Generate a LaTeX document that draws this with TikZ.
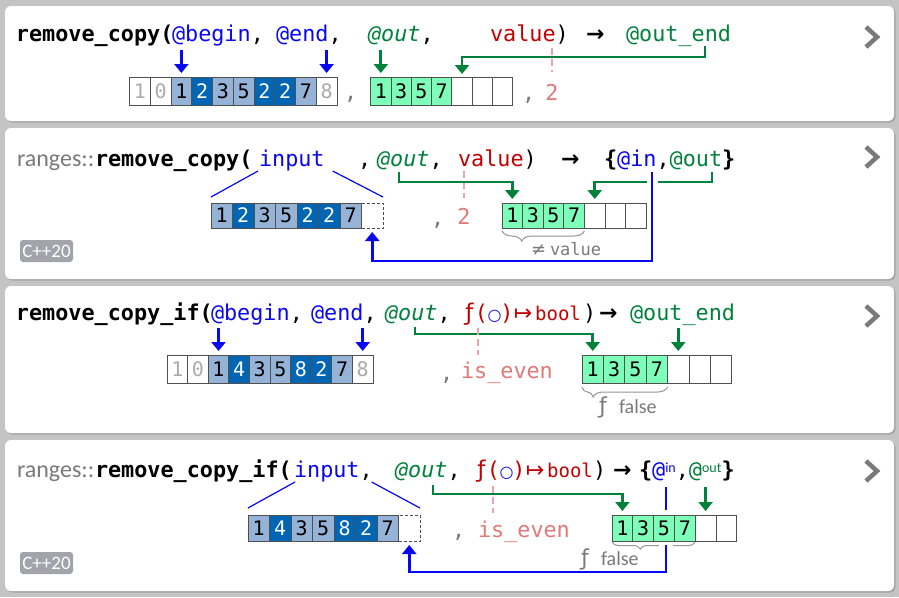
\documentclass[tikz,border=0pt]{standalone}
\usepackage{fontspec}
\setmonofont{DejaVu Sans Mono}
\setsansfont{Carlito}
\newfontfamily\symf{DejaVu Sans}
\usetikzlibrary{arrows.meta,decorations.pathreplacing,calc}

\definecolor{bgc}{HTML}{C4C4C4}
\definecolor{shadowc}{HTML}{A4A4A4}
\definecolor{blueA}{HTML}{0808F0}
\definecolor{greenA}{HTML}{00823D}
\definecolor{redA}{HTML}{C40000}
\definecolor{lred}{HTML}{E07A7A}
\definecolor{ldash}{HTML}{EBA5A5}
\definecolor{lblue}{HTML}{95B3D7}
\definecolor{dblue}{HTML}{0066B3}
\definecolor{gcell}{HTML}{7DFFB9}
\definecolor{grayt}{HTML}{7A7A7A}
\definecolor{lgrayt}{HTML}{ABABAB}
\definecolor{badgec}{HTML}{A3A3AB}
\definecolor{cellb}{HTML}{505050}

\newcommand\cdmono{\fontsize{21.8pt}{24pt}\selectfont\ttfamily}
\newcommand\cdcell{\fontsize{20pt}{22pt}\selectfont\ttfamily}
\newcommand\cdsmall{\fontsize{17pt}{19pt}\selectfont\ttfamily}
\newcommand\cdsans{\fontsize{24pt}{26pt}\selectfont\sffamily}
\newcommand\cdlabel{\fontsize{20pt}{22pt}\selectfont\sffamily}
\newcommand\cdbadge{\fontsize{19pt}{21pt}\selectfont\sffamily}
\newcommand\cdsup{\fontsize{14pt}{14pt}\selectfont\sffamily}
\newcommand\cdarrow{\fontsize{22pt}{24pt}\selectfont\symf\bfseries}
\newcommand\cdsymsm{\fontsize{18pt}{20pt}\selectfont\symf}
\newcommand\cdfn{\fontsize{23pt}{23pt}\selectfont\symf ƒ}

% predicate signature f(o) -> bool, each piece in a fixed-width slot
\newcommand\predsig{%
  \textcolor{redA}{\makebox[15pt][c]{\cdfn}\makebox[9pt][c]{(}}%
  \textcolor{blueA}{\makebox[17pt][c]{\symf\fontsize{16pt}{16pt}\selectfont ○}}%
  \textcolor{redA}{\makebox[8pt][c]{)}\makebox[24pt][c]{\symf\fontsize{22pt}{22pt}\selectfont ↦}%
  \makebox[46pt][c]{\fontsize{19pt}{20pt}\selectfont bool}}}

% a row of array cells: prefix, x0, ytop, cell width, cell height, kind/value list
\newcommand\cellrow[6]{%
  \foreach \s/\v [count=\i] in {#6} {
    \node[cellbox,\s,minimum width=#4pt,minimum height=#5pt,anchor=north west]
      (#1\i) at ({#2+(\i-1)*#4},#3) {\v};
  }}

\tikzset{
  tx/.style={inner sep=0pt, outer sep=0pt, anchor=base west, font=\cdmono},
  cellbox/.style={draw=cellb, line width=0.9pt, inner sep=0pt, outer sep=0pt, font=\cdcell},
  cgray/.style={fill=white, text=lgrayt},
  clight/.style={fill=lblue, text=black},
  cdark/.style={fill=dblue, text=white},
  cgreen/.style={fill=gcell, text=black},
  cempty/.style={fill=white},
  cdash/.style={fill=white, dash pattern=on 3pt off 2pt},
  barrow/.style={draw=blueA, line width=3pt, -{Triangle[width=14pt,length=9pt]}},
  garrow/.style={draw=greenA, line width=3pt, -{Triangle[width=14pt,length=9pt]}},
  bthin/.style={line width=2.5pt},
  gthin/.style={line width=2.5pt},
  bline/.style={draw=blueA, line width=2.5pt},
  thinb/.style={draw=blueA, line width=1.2pt},
  rdash/.style={draw=ldash, line width=1.3pt, dash pattern=on 7pt off 4pt},
  brc/.style={draw=grayt!80, line width=1pt, decorate,
    decoration={brace, mirror, amplitude=#1}},
  chev/.style={draw=grayt, line width=4.5pt, line cap=butt, line join=miter},
  badge/.style={fill=badgec, rounded corners=3pt, minimum width=53pt,
    minimum height=22pt, inner sep=0pt, text=white, font=\cdbadge},
}

\begin{document}
\begin{tikzpicture}[x=1pt,y=-1pt]
\useasboundingbox (0,0) rectangle (899,597);
\fill[bgc] (0,0) rectangle (899,597);

% cards
\foreach \ya/\yb in {6/121,128/279,286/433,440/591} {
  \fill[shadowc, rounded corners=6pt] (6.5,\ya+1.5) rectangle (895.5,\yb+1.5);
  \fill[white, rounded corners=6pt] (5,\ya) rectangle (894,\yb);
}
\foreach \yc in {37,157,316,471}
  \draw[chev] (866,\yc-10) -- (877,\yc) -- (866,\yc+10);

% ---------------- remove_copy ----------------
\node[tx] (p1fn) at (16,41) {\bfseries remove\_copy(};
\node[tx,text=blueA] (p1begin) at (172,41) {@begin};
\node[tx] (p1c1) at (p1begin.base east) {,};
\node[tx,text=blueA] (p1end) at (276,41) {@end};
\node[tx] (p1c2) at (p1end.base east) {,};
\node[tx,text=greenA] (p1out) at (368,41) {\itshape @out};
\node[tx] (p1c3) at (p1out.base east) {,};
\node[tx,text=redA] (p1val) at (490,41) {value};
\node[tx] (p1rp) at (p1val.base east) {)};
\node[tx,font=\cdarrow] (p1to) at (586,41) {→};
\node[tx,text=greenA] (p1ret) at (626,41) {@out\_end};

\cellrow{p1a}{129.5}{77}{20.75}{28}{cgray/1,cgray/0,clight/1,cdark/2,clight/3,clight/5,cdark/2,cdark/2,clight/7,cgray/8}
\cellrow{p1b}{370.7}{77}{20.3}{28}{cgreen/1,cgreen/3,cgreen/5,cgreen/7,cempty/{},cempty/{},cempty/{}}
\node[tx,text=grayt] (p1sep) at (344,99) {,};
\node[tx,text=grayt] (p1sep2) at (522,100) {,};
\node[tx,anchor=base,text=lred] (p1two) at (552,100) {2};

\draw[barrow] ($(p1a3.north)+(0,-27)$) -- ($(p1a3.north)+(0,-4)$);
\draw[barrow] ($(p1a10.north)+(0,-27)$) -- ($(p1a10.north)+(0,-4)$);
\draw[garrow] ($(p1b1.north)+(0,-27)$) -- ($(p1b1.north)+(0,-4)$);
\coordinate (p1k) at (705,46);
\draw[garrow,gthin] (p1k) |- ($(p1b5.north)+(0,-20)$) -- ($(p1b5.north)+(0,-3)$);
\draw[rdash] ($(p1two.north)+(0,-36)$) -- ($(p1two.north)+(0,-12)$);

% ---------------- ranges::remove_copy ----------------
\node[tx,font=\cdsans,text=grayt] (p2ns) at (17,166) {ranges::};
\node[tx] (p2fn) at (95,166) {\bfseries remove\_copy(};
\node[tx,text=blueA] (p2in) at (259,166) {input};
\node[tx] (p2c1) at (358,166) {,};
\node[tx,text=greenA] (p2out) at (377,166) {\itshape @out};
\node[tx] (p2c2) at (p2out.base east) {,};
\node[tx,text=redA] (p2val) at (458,166) {value};
\node[tx] (p2rp) at (p2val.base east) {)};
\node[tx,font=\cdarrow] (p2to) at (561,166) {→};
\node[tx] (p2lb) at (604,166) {\bfseries\{};
\node[tx,text=blueA] (p2rin) at (p2lb.base east) {@in};
\node[tx] (p2c3) at (p2rin.base east) {,};
\node[tx,text=greenA] (p2rout) at (p2c3.base east) {@out};
\node[tx] (p2rb) at (p2rout.base east) {\bfseries\}};

\cellrow{p2a}{211}{203}{21.5}{25}{clight/1,cdark/2,clight/3,clight/5,cdark/2,cdark/2,clight/7,cdash/{}}
\cellrow{p2b}{502}{203}{20.6}{25}{cgreen/1,cgreen/3,cgreen/5,cgreen/7,cempty/{},cempty/{},cempty/{}}
\node[tx,text=grayt] (p2sep) at (431,225) {,};
\node[tx,anchor=base,text=lred] (p2two) at (464,224) {2};

\draw[thinb] ($(p2in.base west)+(-1,5)$) -- ($(p2a1.north west)+(0,-6)$);
\draw[thinb] ($(p2in.base east)+(8,5)$) -- ($(p2a8.north east)+(0,-6)$);
\draw[rdash] ($(p2two.north)+(0,-37)$) -- ($(p2two.north)+(0,-10)$);

\coordinate (p2k2) at (399,172);
\coordinate (p2k3) at (712,172);
\coordinate (p2k1) at (652,172);
\draw[garrow,gthin] (p2k2) |- ($(p2b1.north)+(0,-21)$) -- ($(p2b1.north)+(0,-4)$);
\draw[garrow,gthin] (p2k3) |- ($(p2b5.north)+(0,-21)$) -- ($(p2b5.north)+(0,-4)$);
\draw[white, line width=11pt] ($(p2k1)+(0,4)$) -- ($(p2k1)+(0,17)$);
\draw[barrow,bthin] (p2k1) |- ($(p2a8.south)+(0,33)$) -- ($(p2a8.south)+(0,4)$);

\draw[brc=10pt] ($(p2b1.south west)+(0,3)$) -- ($(p2b4.south east)+(0,3)$)
  [decoration={aspect=0.24}];
\node[tx,font=\cdsymsm,text=grayt] (p2neq) at (531,255) {≠};
\node[tx,font=\cdsmall,text=grayt] (p2neqv) at (550,255) {value};
\node[badge] (p2badge) at (46.5,251) {C++20};

% ---------------- remove_copy_if ----------------
\node[tx] (p3fn) at (16,320) {\bfseries remove\_copy\_if(};
\node[tx,text=blueA] (p3begin) at (211,320) {@begin};
\node[tx] (p3c1) at (p3begin.base east) {,};
\node[tx,text=blueA] (p3end) at (311,320) {@end};
\node[tx] (p3c2) at (p3end.base east) {,};
\node[tx,text=greenA] (p3out) at (385,320) {\itshape @out};
\node[tx] (p3c3) at (p3out.base east) {,};
\node[tx] (p3pred) at (462,320) {\predsig};
\node[tx] (p3rp) at (583,320) {)};
\node[tx,font=\cdarrow] (p3to) at (599,320) {→};
\node[tx,text=greenA] (p3ret) at (630,320) {@out\_end};

\cellrow{p3a}{167}{355}{20.6}{28}{cgray/1,cgray/0,clight/1,cdark/4,clight/3,clight/5,cdark/8,cdark/2,clight/7,cgray/8}
\cellrow{p3b}{582}{355}{21.4}{28}{cgreen/1,cgreen/3,cgreen/5,cgreen/7,cempty/{},cempty/{},cempty/{}}
\node[tx,text=grayt] (p3sep) at (440,380) {,};
\node[tx,text=lred] (p3pv) at (461,378) {is\_even};

\draw[barrow] ($(p3a3.north)+(0,-27)$) -- ($(p3a3.north)+(0,-4)$);
\draw[barrow] ($(p3a10.north)+(0,-27)$) -- ($(p3a10.north)+(0,-4)$);
\coordinate (p3k) at (415,327);
\draw[garrow,gthin] (p3k) |- ($(p3b1.north)+(0,-21)$) -- ($(p3b1.north)+(0,-4)$);
\draw[garrow] ($(p3b5.north)+(0,-27)$) -- ($(p3b5.north)+(0,-4)$);
\coordinate (p3d) at (478,328);
\draw[rdash] (p3d) -- ($(p3d)+(0,27)$);

\draw[brc=10pt] ($(p3b1.south west)+(0,4)$) -- ($(p3b4.south east)+(0,4)$)
  [decoration={aspect=0.13}];
\node[tx,font=\fontsize{22pt}{22pt}\selectfont\symf,text=grayt] (p3f) at (599,413) {ƒ};
\node[tx,font=\cdlabel,text=grayt] (p3ff) at (619,413) {false};

% ---------------- ranges::remove_copy_if ----------------
\node[tx,font=\cdsans,text=grayt] (p4ns) at (17,477) {ranges::};
\node[tx] (p4fn) at (95,477) {\bfseries remove\_copy\_if(};
\node[tx,text=blueA] (p4in) at (294,477) {input};
\node[tx] (p4c1) at (p4in.base east) {,};
\node[tx,text=greenA] (p4out) at (395,477) {\itshape @out};
\node[tx] (p4c2) at (p4out.base east) {,};
\node[tx] (p4pred) at (474,477) {\predsig};
\node[tx] (p4rp) at (593,477) {)};
\node[tx,font=\cdarrow] (p4to) at (613,477) {→};
\node[tx] (p4lb) at (639,477) {\bfseries\{};
\node[tx,text=blueA] (p4rin) at (p4lb.base east) {@\raisebox{5pt}{\cdsup in}};
\node[tx] (p4c3) at (p4rin.base east) {,};
\node[tx,text=greenA] (p4rout) at (p4c3.base east) {@\raisebox{5pt}{\cdsup out}};
\node[tx] (p4rb) at (p4rout.base east) {\bfseries\}};

\cellrow{p4a}{248}{515}{21.5}{26}{clight/1,cdark/4,clight/3,clight/5,cdark/8,cdark/2,clight/7,cdash/{}}
\cellrow{p4b}{612}{515}{20.8}{26}{cgreen/1,cgreen/3,cgreen/5,cgreen/7,cempty/{},cempty/{}}
\node[tx,text=grayt] (p4sep) at (452,537) {,};
\node[tx,text=lred] (p4pv) at (478,537) {is\_even};

\draw[thinb] ($(p4in.base west)+(1,5)$) -- ($(p4a1.north west)+(0,-7)$);
\draw[thinb] ($(p4in.base east)+(12,5)$) -- ($(p4a8.north east)+(0,-7)$);
\coordinate (p4k) at (433,485);
\draw[garrow,gthin] (p4k) |- ($(p4b1.north)+(0,-21)$) -- ($(p4b1.north)+(0,-4)$);
\draw[garrow] ($(p4b5.north)+(0,-28)$) -- ($(p4b5.north)+(0,-4)$);
\coordinate (p4d) at (493,486);
\draw[rdash] (p4d) -- ($(p4d)+(0,27)$);

\draw[brc=7pt] ($(p4b1.south west)+(0,1)$) -- ($(p4b4.south east)+(0,1)$)
  [decoration={aspect=0.34}];
\fill[white] ($(p4b3.south)+(-5,1.5)$) rectangle ($(p4b3.south)+(9,10)$);
\coordinate (p4k1) at ($(p4b3.north)+(2,-28)$);
\draw[bline] (p4k1) -- ($(p4b3.north)+(2,-5)$);
\draw[barrow,bthin] ($(p4b3.south)+(2,4)$) |- ($(p4a8.south)+(0,31)$) -- ($(p4a8.south)+(0,4)$);

\node[tx,font=\fontsize{22pt}{22pt}\selectfont\symf,text=grayt] (p4f) at (581,565) {ƒ};
\node[tx,font=\cdlabel,text=grayt] (p4ff) at (601,565) {false};
\node[badge] (p4badge) at (46.5,563) {C++20};
\end{tikzpicture}
\end{document}
